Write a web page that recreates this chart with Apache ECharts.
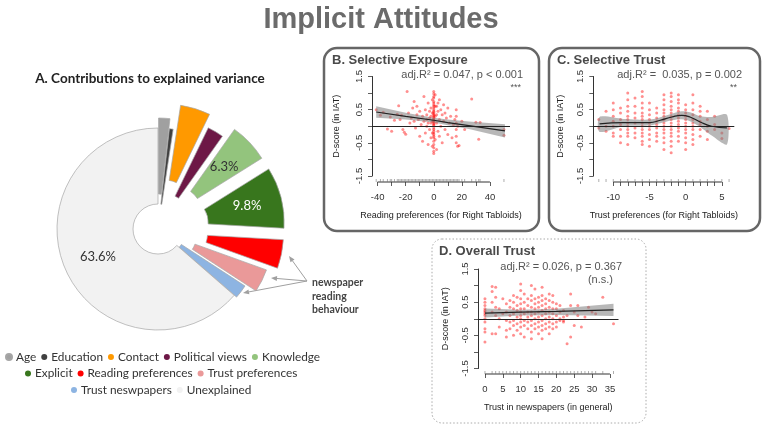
<!DOCTYPE html>
<html>
<head>
<meta charset="utf-8">
<script src="https://cdn.jsdelivr.net/npm/echarts@6/dist/echarts.min.js"></script>
<style>
  html, body { margin: 0; padding: 0; background: #fff; }
  #main { width: 765px; height: 426px; }
</style>
</head>
<body>
<div id="main"></div>
<script>
// A. contributions to explained variance (%)
var pieNames = ['Age', 'Education', 'Contact', 'Political views', 'Knowledge', 'Explicit',
  'Reading preferences', 'Trust preferences', 'Trust neswpapers', 'Unexplained'];
var pieValues = [1.8, 0.6, 4.8, 2.6, 6.3, 9.8, 4.6, 3.7, 2.2, 63.6];
var pieLabelled = ['Knowledge', 'Explicit', 'Unexplained'];
var pieColors = ['#a0a0a0', '#404040', '#ff9900', '#6d1846', '#93c47d', '#38761d',
  '#ff0000', '#ea9999', '#8db4e2', '#f2f2f2'];
var pieExplode = [10, 0, 25, 12, 25, 26, 25, 15, 3, 0];
var legendRows = [
  ['Age', 'Education', 'Contact', 'Political views', 'Knowledge'],
  ['Explicit', 'Reading preferences', 'Trust preferences'],
  ['Trust neswpapers', 'Unexplained']
];

// shared y axis (D-score), ticks every 0.5, labels on these only
var yLabels = [-1.5, -0.5, 0.5, 1.5];

// B. Selective Exposure
var bPoints = [
  [-41, 0.5], [-38, 0.33], [-36, 0.42], [-33, -0.08], [-31, 0.28], [-30, -0.15], [-28, 0.18], [-26, 0.36],
  [-25, 0.62], [-24, 0.2], [-23, 0.33], [-22, -0.1], [-21, -0.18], [-20, -0.24], [-19, 1.05], [-18, 0.4],
  [-17, 0.1], [-16, 0.25], [-15, 0.55], [-14, 0.75], [-14, 0.15], [-13, -0.05], [-12, 0.35], [-12, 0.6],
  [-11, 0.2], [-10, -0.3], [-10, 0.45], [-9, 0.05], [-8, 0.3], [-8, -0.45], [-7, 0.9], [-7, 0.15],
  [-6, 0.5], [-6, -0.2], [-5, 0.35], [-5, 0.0], [-5, 0.2], [-4, 0.7], [-4, -0.55], [-4, 0.1],
  [-3, 0.25], [-3, -0.1], [-3, 0.45], [-2, 0.55], [-2, 0.1], [-2, -0.35], [-2, 0.3], [-1, 0.8],
  [-1, 0.4], [-1, -0.2], [-1, -0.6], [-1, 0.15],
  [0, 1.05], [0, 0.98], [0, 0.9], [0, 0.85], [0, 0.75], [0, 0.7], [0, 0.65], [0, 0.6], [0, 0.55],
  [0, 0.5], [0, 0.45], [0, 0.42], [0, 0.38], [0, 0.35], [0, 0.32], [0, 0.28], [0, 0.25], [0, 0.22],
  [0, 0.18], [0, 0.15], [0, 0.12], [0, 0.08], [0, 0.05], [0, 0.02], [0, -0.05], [0, -0.1], [0, -0.15],
  [0, -0.2], [0, -0.25], [0, -0.3], [0, -0.35], [0, -0.45], [0, -0.55], [0, -0.65], [0, -0.75], [0, -0.82],
  [1, 0.95], [1, 0.3], [1, -0.4], [1, 0.6], [2, 0.6], [2, 0.1], [2, -0.7], [2, 0.35], [3, 0.45],
  [3, -0.15], [3, 0.7], [4, 0.8], [4, 0.2], [4, -0.3], [5, 0.5], [5, 0.0], [6, 0.35], [6, -0.5],
  [7, 0.65], [7, 0.15], [8, -0.1], [8, 0.4], [9, 0.25], [10, 0.55], [10, -0.25], [11, 0.1], [12, 0.3],
  [13, -0.35], [14, 0.05], [15, 0.2], [16, 0.5], [16, 0.3], [16, 0.1], [16, -0.1], [16, -0.3], [16, -0.5],
  [17, -0.6], [17, 0.0], [18, -0.58], [20, 0.15], [22, -0.1], [27, 0.82], [30, 0.12], [33, 0.11],
  [32, -0.39], [50, -0.27], [50, -0.1]
];
var bFitX = [-41, -20, 0, 10, 25, 50.7];
var bFit = [0.43, 0.30, 0.18, 0.11, 0.02, -0.14];
var bLo = [0.26, 0.20, 0.11, 0.03, -0.08, -0.34];
var bHi = [0.60, 0.41, 0.26, 0.20, 0.14, 0.06];
var bTicksX = [-40, -30, -20, -10, 0, 10, 20, 30, 40];
var bLabelsX = [-40, -20, 0, 20, 40];

// C. Selective Trust (columns: x, y values)
var cColumns = [
  [-12, [0.2, -0.05]],
  [-11, [0.45, 0.0, -0.15]],
  [-10, [0.7, 0.5, 0.3, 0.15, 0.0, -0.2, -0.3]],
  [-9, [0.55, 0.4, 0.2, 0.05, -0.1, -0.3, -0.5]],
  [-8, [1.0, 0.8, 0.6, 0.45, 0.3, 0.2, 0.1, 0.0, -0.1, -0.2, -0.3, -0.55]],
  [-7, [0.85, 0.6, 0.4, 0.25, 0.1, -0.05, -0.2, -0.35]],
  [-6, [1.05, 0.9, 0.7, 0.55, 0.4, 0.3, 0.2, 0.1, 0.0, -0.1, -0.2, -0.3, -0.45, -0.55]],
  [-5, [0.7, 0.5, 0.35, 0.2, 0.1, 0.0, -0.1, -0.25, -0.4, -0.6]],
  [-4, [0.55, 0.4, 0.25, 0.15, 0.05, -0.05, -0.2, -0.3, -0.45]],
  [-3, [0.95, 0.8, 0.65, 0.5, 0.4, 0.3, 0.2, 0.1, 0.0, -0.1, -0.2, -0.35, -0.5, -0.7]],
  [-2, [1.0, 0.9, 0.75, 0.6, 0.5, 0.4, 0.3, 0.2, 0.1, 0.0, -0.1, -0.2, -0.3, -0.45, -0.6, -0.8]],
  [-1, [0.95, 0.8, 0.7, 0.55, 0.45, 0.35, 0.25, 0.15, 0.05, -0.05, -0.15, -0.3, -0.45]],
  [0, [0.65, 0.5, 0.4, 0.3, 0.2, 0.1, 0.0, -0.1, -0.2, -0.35, -0.5, -0.7]],
  [1, [0.95, 0.7, 0.5, 0.35, 0.2, 0.1, 0.0, -0.1, -0.25, -0.4, -0.55]],
  [2, [0.6, 0.45, 0.3, 0.15, 0.05, -0.1, -0.3]],
  [3, [0.45, 0.2, 0.0, -0.15, -0.4]],
  [4, [0.3, 0.05, -0.1]],
  [5, [-0.2, -0.37]],
  [6, [-0.07]]
];
var cFitX = [-11.9, -8.6, -5, -3.5, -1.9, -0.55, 0.6, 2, 3.6, 5.7];
var cFit = [0.07, 0.11, 0.11, 0.18, 0.28, 0.33, 0.28, 0.13, 0.0, -0.05];
var cLo = [-0.17, 0.0, 0.02, 0.09, 0.18, 0.21, 0.15, -0.02, -0.28, -0.55];
var cHi = [0.28, 0.22, 0.2, 0.27, 0.38, 0.45, 0.42, 0.3, 0.28, 0.35];
var cTicksX = [-10, -9, -8, -7, -6, -5, -4, -3, -2, -1, 0, 1, 2, 3, 4, 5];
var cLabelsX = [-10, -5, 0, 5];

// D. Overall Trust (columns: x, y values)
var dColumns = [
  [0, [0.6, 0.5, 0.4, 0.3, 0.25, 0.2, 0.15, 0.1, 0.0, -0.1, -0.3, -0.4, -0.7]],
  [2, [0.97, 0.82, 0.5, 0.2, -0.45]],
  [3, [0.95, 0.65, 0.35, 0.1, -0.45]],
  [4, [0.3, 0.0, -0.25]],
  [5, [0.6, 0.15]],
  [6, [0.45, 0.2, -0.05, -0.35, -0.55]],
  [7, [0.55, 0.35, 0.1, -0.1, -0.3]],
  [8, [0.7, 0.5, 0.3, 0.15, -0.05, -0.2, -0.5]],
  [9, [0.65, 0.4, 0.25, 0.05, -0.15, -0.35]],
  [10, [1.05, 0.85, 0.6, 0.45, 0.3, 0.2, 0.1, 0.0, -0.1, -0.25, -0.45]],
  [11, [0.75, 0.5, 0.3, 0.15, -0.05, -0.2, -0.55]],
  [12, [0.6, 0.4, 0.2, 0.05, -0.1, -0.3]],
  [13, [1.0, 0.7, 0.55, 0.35, 0.2, 0.1, -0.05, -0.2, -0.4, -0.6]],
  [14, [0.9, 0.6, 0.45, 0.3, 0.15, 0.0, -0.15, -0.3]],
  [15, [0.65, 0.5, 0.35, 0.2, 0.05, -0.1, -0.25, -0.45]],
  [16, [0.95, 0.7, 0.55, 0.4, 0.25, 0.1, -0.05, -0.2, -0.35, -0.6]],
  [17, [0.6, 0.45, 0.3, 0.15, 0.0, -0.15, -0.3]],
  [18, [0.75, 0.55, 0.35, 0.2, 0.05, -0.1, -0.25, -0.45]],
  [19, [0.7, 0.5, 0.3, 0.15, 0.0, -0.15, -0.3]],
  [20, [0.45, 0.3, 0.1, -0.1, -0.25]],
  [21, [0.4, 0.2, 0.0, -0.05]],
  [22, [0.25, 0.05, -0.05, -0.1]],
  [23, [0.1, -0.75]],
  [24, [0.75, 0.4, -0.55]],
  [25, [0.2, -0.2]],
  [26, [0.4, 0.1]],
  [27, [-0.25]],
  [28, [0.05]],
  [29, [0.35]],
  [30, [0.2]],
  [31, [0.15]],
  [33, [0.65]],
  [36, [-0.15]]
];
var dFitX = [0, 10, 20, 36];
var dFit = [0.17, 0.2, 0.22, 0.27];
var dLo = [0.04, 0.1, 0.11, 0.08];
var dHi = [0.31, 0.27, 0.3, 0.45];
var dTicksX = [0, 5, 10, 15, 20, 25, 30, 35];
var dLabelsX = [0, 5, 10, 15, 20, 25, 30, 35];

function flatten(cols) {
  var out = [];
  cols.forEach(function (c) { c[1].forEach(function (y) { out.push([c[0], y]); }); });
  return out;
}
function uniqueX(points) {
  var seen = {};
  return points.map(function (p) { return p[0]; }).filter(function (x) {
    if (seen[x]) return false;
    seen[x] = true;
    return true;
  });
}
var cPoints = flatten(cColumns);
var dPoints = flatten(dColumns);

var rFont = 'Liberation Sans, Arial, sans-serif';
var pieFont = 'Lato, Open Sans, sans-serif';
var xMins = [-44, -12.76, -1.95];

function xAxisOf(idx, max, ticks, labels, name, offset) {
  return {
    type: 'value', gridIndex: idx, min: xMins[idx], max: max, offset: offset,
    axisLine: { show: false, onZero: false }, splitLine: { show: false },
    axisTick: { show: true, customValues: ticks, length: 4, lineStyle: { color: '#333', width: 0.8 } },
    axisLabel: { customValues: labels, margin: 10, fontSize: 9.5, color: '#333', fontFamily: rFont },
    name: name, nameLocation: 'middle', nameGap: 29,
    nameTextStyle: { fontSize: 9, color: '#222', fontFamily: rFont }
  };
}
function yAxisOf(idx, gap) {
  return {
    type: 'value', gridIndex: idx, min: -1.5, max: 1.5, interval: 0.5,
    axisLine: { show: true, onZero: false, lineStyle: { color: '#333', width: 1 } }, splitLine: { show: false },
    axisTick: { show: true, length: 4, lineStyle: { color: '#333', width: 0.8 } },
    axisLabel: { show: false },
    name: 'D-score (in IAT)', nameLocation: 'middle', nameGap: gap, nameRotate: 90,
    nameTextStyle: { fontSize: 9, color: '#222', fontFamily: rFont }
  };
}

// R-style x axis line over the tick range only, plus data rug
function frameSeries(idx, xFrom, xTo, rugXs, offset) {
  return {
    type: 'custom', xAxisIndex: idx, yAxisIndex: idx, silent: true, clip: false, z: 5,
    data: [0],
    renderItem: function (params, api) {
      var cs = params.coordSys;
      var base = cs.y + cs.height + offset;
      var xa = api.coord([xFrom, 0])[0], xb = api.coord([xTo, 0])[0];
      var children = [
        { type: 'line', shape: { x1: xa, y1: base, x2: xb, y2: base }, style: { stroke: '#333', lineWidth: 1 } }
      ];
      rugXs.forEach(function (v) {
        var px = api.coord([v, 0])[0];
        children.push({ type: 'line', shape: { x1: px, y1: base, x2: px, y2: base - 3 },
          style: { stroke: '#777', lineWidth: 0.6 } });
      });
      return { type: 'group', children: children };
    }
  };
}

// confidence band drawn as a polygon through the read band edges
function bandSeries(idx, fitX, lo, hi, smooth) {
  return {
    type: 'custom', xAxisIndex: idx, yAxisIndex: idx, silent: true, z: 3,
    data: [0],
    renderItem: function (params, api) {
      var pts = [];
      fitX.forEach(function (x, i) { pts.push(api.coord([x, hi[i]])); });
      for (var i = fitX.length - 1; i >= 0; i--) pts.push(api.coord([fitX[i], lo[i]]));
      return { type: 'polygon', shape: { points: pts, smooth: smooth || 0 },
        style: { fill: 'rgba(125,125,125,0.55)' } };
    }
  };
}

function panelSeries(idx, points, fitX, fit, lo, hi, smooth, xFrom, xTo, offset) {
  return [
    {
      type: 'scatter', xAxisIndex: idx, yAxisIndex: idx, data: points, symbol: 'circle', symbolSize: 3,
      itemStyle: { color: 'rgba(255,0,0,0.55)' }, silent: true, z: 2,
      markLine: {
        silent: true, symbol: ['none', 'none'], label: { show: false },
        lineStyle: { color: '#222', width: 1, type: 'solid' }, data: [{ yAxis: 0 }]
      }
    },
    bandSeries(idx, fitX, lo, hi, smooth ? 0.25 : 0),
    {
      type: 'line', xAxisIndex: idx, yAxisIndex: idx, smooth: smooth, symbol: 'none',
      data: fitX.map(function (x, i) { return [x, fit[i]]; }), lineStyle: { color: '#222', width: 1.2 }, silent: true, z: 4
    },
    frameSeries(idx, xFrom, xTo, uniqueX(points), offset)
  ];
}

var pieSeries = pieNames.map(function (name, i) {
  return {
    type: 'pie', center: [158, 229], radius: [25, 101], startAngle: 90, clockwise: true,
    selectedMode: 'single', selectedOffset: pieExplode[i], avoidLabelOverlap: false,
    labelLine: { show: false }, emphasis: { disabled: true }, z: 2,
    data: pieNames.map(function (n, j) {
      var on = j === i;
      return {
        name: n, value: pieValues[j], selected: on && pieExplode[i] > 0,
        itemStyle: on ? { color: pieColors[j], borderColor: '#a6a6a6', borderWidth: 0.7 }
                      : { color: 'rgba(0,0,0,0)', borderWidth: 0 },
        label: {
          show: on && pieLabelled.indexOf(n) >= 0, position: 'inside', formatter: '{c}%',
          fontSize: 13, fontFamily: pieFont, color: n === 'Explicit' ? '#fff' : '#333'
        }
      };
    })
  };
});

var legendLeft = [0, 20, 66];
var legends = legendRows.map(function (row, r) {
  return {
    top: 346 + r * 16.5, left: legendLeft[r], icon: 'circle', itemWidth: 6, itemHeight: 6, itemGap: 5,
    textStyle: { fontFamily: pieFont, fontSize: 11.8, color: '#333', padding: [0, 0, 0, -1] },
    selectedMode: false,
    data: row.map(function (n) { return { name: n, itemStyle: { color: pieColors[pieNames.indexOf(n)] } }; })
  };
});

function txt(x, y, s, size, opts) {
  opts = opts || {};
  return {
    type: 'text', x: x, y: y, z: 10, silent: true, rotation: opts.rotation || 0,
    style: {
      text: s, fill: opts.color || '#555', font: (opts.bold ? 'bold ' : '') + size + 'px ' + (opts.family || rFont),
      textAlign: opts.align || 'left', textVerticalAlign: 'middle', align: opts.align || 'left', verticalAlign: 'middle'
    }
  };
}
function arrow(from, to) {
  var dx = to[0] - from[0], dy = to[1] - from[1];
  var len = Math.sqrt(dx * dx + dy * dy), ux = dx / len, uy = dy / len;
  var bx = to[0] - ux * 6, by = to[1] - uy * 6;
  return [
    { type: 'line', shape: { x1: from[0], y1: from[1], x2: bx, y2: by }, style: { stroke: '#a0a0a0', lineWidth: 1 }, silent: true },
    { type: 'polygon', shape: { points: [to, [bx - uy * 2.5, by + ux * 2.5], [bx + uy * 2.5, by - ux * 2.5]] },
      style: { fill: '#a0a0a0' }, silent: true }
  ];
}

var graphics = [
  { type: 'rect', shape: { x: 324, y: 48, width: 215, height: 183, r: 13 }, style: { fill: 'none', stroke: '#666', lineWidth: 2.5 }, silent: true },
  { type: 'rect', shape: { x: 549, y: 48, width: 211, height: 183, r: 13 }, style: { fill: 'none', stroke: '#666', lineWidth: 2.5 }, silent: true },
  { type: 'rect', shape: { x: 432, y: 239, width: 214, height: 184, r: 10 }, style: { fill: 'none', stroke: '#aaa', lineWidth: 1, lineDash: [1.5, 2] }, silent: true },
  txt(381, 20, 'Implicit Attitudes', 29, { bold: true, color: '#6b6b6b', align: 'center' }),
  txt(150, 79, 'A. Contributions to explained variance', 13.5, { bold: true, color: '#222', align: 'center', family: pieFont }),
  txt(332, 60, 'B. Selective Exposure', 13, { bold: true, color: '#4a4a4a' }),
  txt(557, 60, 'C. Selective Trust', 13, { bold: true, color: '#4a4a4a' }),
  txt(439, 251, 'D. Overall Trust', 13, { bold: true, color: '#4a4a4a' }),
  txt(523, 75, 'adj.R\u00b2 = 0.047, p < 0.001', 11, { align: 'right' }),
  txt(521, 88, '***', 9, { align: 'right' }),
  txt(742, 75, 'adj.R\u00b2 =  0.035, p = 0.002', 11, { align: 'right' }),
  txt(737, 88, '**', 9, { align: 'right' }),
  txt(622, 267, 'adj.R\u00b2 = 0.026, p = 0.367', 11, { align: 'right' }),
  txt(613, 280, '(n.s.)', 11, { align: 'right' }),
  txt(312, 283, 'newspaper', 10.5, { bold: true, color: '#444', family: pieFont }),
  txt(312, 297, 'reading', 10.5, { bold: true, color: '#444', family: pieFont }),
  txt(312, 310, 'behaviour', 10.5, { bold: true, color: '#444', family: pieFont })
].concat(arrow([307, 281], [289, 256]), arrow([307, 281], [271, 278]), arrow([307, 281], [243, 293]));

var chart = echarts.init(document.getElementById('main'));
var option = {
  animation: false,
  backgroundColor: '#fff',
  grid: [
    { left: 372, top: 76.5, width: 138, height: 99.5, containLabel: false, outerBoundsMode: 'none' },
    { left: 593.3, top: 76.5, width: 141, height: 99.5, containLabel: false, outerBoundsMode: 'none' },
    { left: 478, top: 269, width: 140.5, height: 99.5, containLabel: false, outerBoundsMode: 'none' }
  ],
  xAxis: [
    xAxisOf(0, 54.3, bTicksX, bLabelsX, 'Reading preferences (for Right Tabloids)', 6),
    xAxisOf(1, 6.72, cTicksX, cLabelsX, 'Trust preferences (for Right Tabloids)', 6),
    xAxisOf(2, 37.4, dTicksX, dLabelsX, 'Trust in newspapers (in general)', 5.5)
  ],
  yAxis: [yAxisOf(0, 31), yAxisOf(1, 28), yAxisOf(2, 28)],
  legend: legends,
  graphic: graphics,
  series: pieSeries
    .concat(panelSeries(0, bPoints, bFitX, bFit, bLo, bHi, false, -40, 40, 6))
    .concat(panelSeries(1, cPoints, cFitX, cFit, cLo, cHi, 0.5, -10, 5, 6))
    .concat(panelSeries(2, dPoints, dFitX, dFit, dLo, dHi, false, 0, 35, 5.5))
};
chart.setOption(option);

// y tick labels read along the axis (R style), placed through each grid's own scale
var yLabelTexts = [];
[0, 1, 2].forEach(function (g) {
  yLabels.forEach(function (v) {
    var p = chart.convertToPixel({ gridIndex: g }, [xMins[g], v]);
    yLabelTexts.push(txt(p[0] - 13, p[1], String(v), 9.5, { color: '#333', align: 'center', rotation: Math.PI / 2 }));
  });
});
chart.setOption({ graphic: graphics.concat(yLabelTexts) });
</script>
</body>
</html>
